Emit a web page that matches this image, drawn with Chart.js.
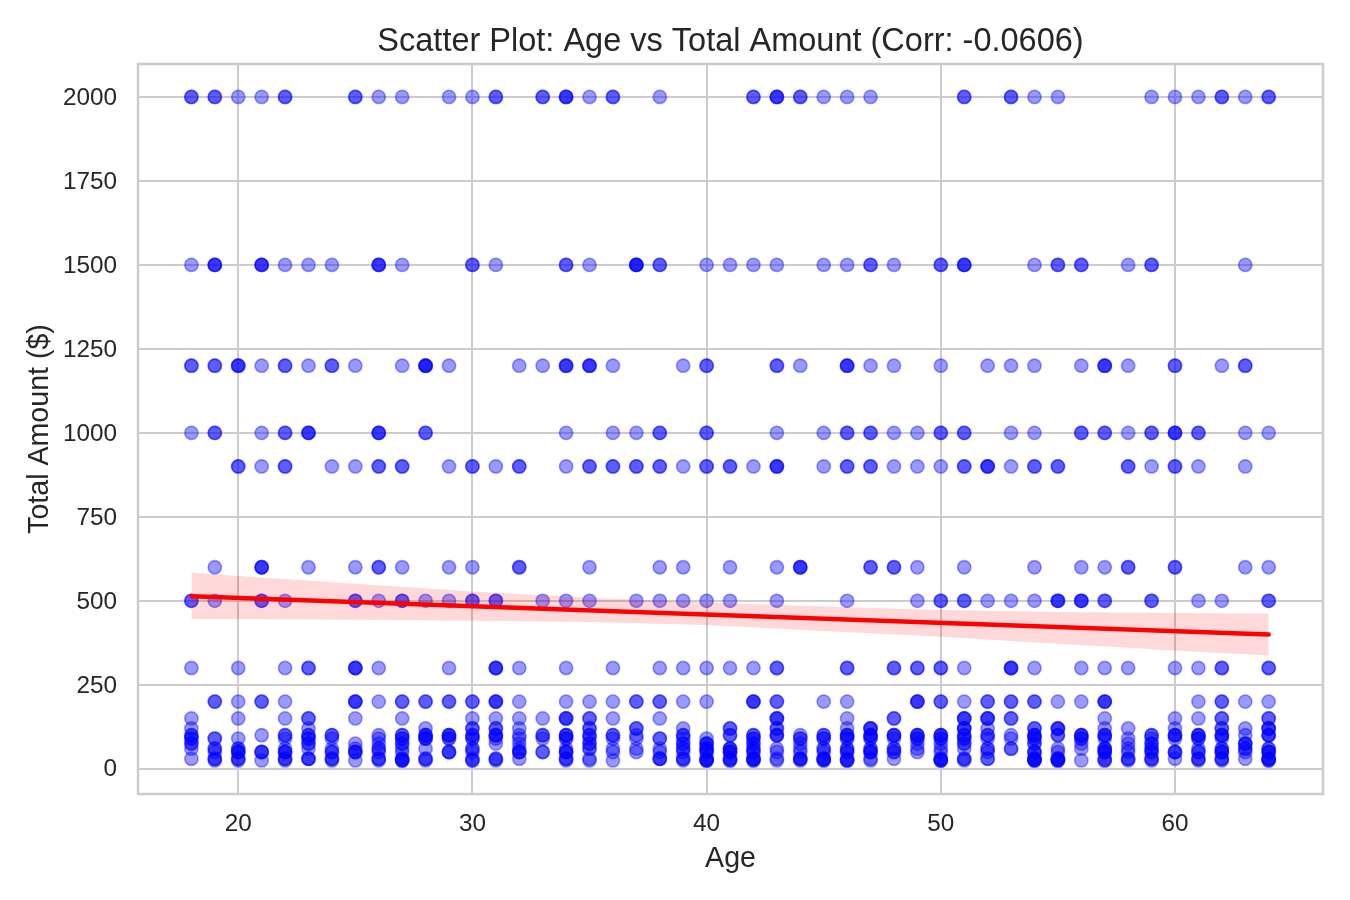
<!DOCTYPE html>
<html>
<head>
<meta charset="utf-8">
<script src="https://cdn.jsdelivr.net/npm/chart.js@4"></script>
<style>html,body{margin:0;padding:0;background:#fff}canvas{display:block}</style>
</head>
<body>
<canvas id="c" width="1350" height="900"></canvas>
<script>
// Ages of the customers at each Total Amount level (repeats = overlapping points)
const ages2000 = [18,18,19,19,20,21,22,22,25,25,26,27,29,30,31,31,33,33,34,34,34,35,36,36,38,42,42,43,43,43,44,44,45,46,47,51,51,53,53,54,55,59,60,61,62,62,63,64,64];
const ages1500 = [18,19,19,19,21,21,21,22,23,24,26,26,26,27,30,30,31,34,34,35,37,37,37,37,38,38,40,41,42,43,45,46,47,47,48,50,50,51,51,51,54,55,55,56,56,58,59,59,63];
const ages1200 = [18,18,19,19,20,20,20,21,22,22,23,24,24,25,27,28,28,28,28,29,32,33,34,34,34,35,35,35,36,39,40,40,43,43,44,46,46,46,47,48,50,52,53,54,56,57,57,57,58,60,60,62,63,63];
const ages1000 = [18,19,19,21,22,22,23,23,23,26,26,26,28,28,34,36,37,38,38,40,40,43,45,46,46,47,47,48,49,50,50,51,51,53,54,56,56,57,57,58,59,59,60,60,60,61,61,63,64];
const ages900 = [20,20,21,22,22,24,25,26,26,27,27,29,30,30,31,32,32,34,35,35,36,36,37,37,38,38,39,40,40,41,41,42,43,43,43,45,46,46,47,47,48,49,50,51,51,52,52,52,53,54,54,55,55,58,58,59,60,60,61,63];
const ages600 = [19,21,21,21,23,25,26,26,27,29,30,32,32,35,38,39,41,43,44,44,44,47,47,48,48,49,51,54,56,57,58,58,60,60,63,64];
const ages500 = [18,18,19,21,21,22,25,25,26,27,27,28,29,30,30,31,31,33,34,35,37,38,39,40,41,43,46,49,50,50,51,51,52,53,54,55,55,55,56,56,56,57,57,59,59,61,62,64,64];
const ages300 = [18,20,22,23,23,25,25,25,26,29,31,31,31,32,34,36,38,39,40,41,42,43,43,46,46,48,48,49,49,50,50,51,53,53,53,54,56,57,58,60,61,62,62,64,64];
const ages200 = [19,19,20,21,21,22,25,25,25,26,27,27,28,28,29,29,30,30,31,31,31,32,34,35,36,37,37,38,38,39,40,42,42,42,43,43,45,46,49,49,49,50,50,51,52,52,53,53,54,54,55,56,57,57,57,61,62,62,63,64];
const ages150 = [18,20,22,23,23,25,27,30,31,32,33,34,34,34,35,35,36,38,43,43,43,46,48,48,51,51,51,52,52,52,53,53,57,60,61,62,62,64,64];
const ages120 = [18,23,28,30,30,31,31,32,35,35,37,37,39,41,41,43,43,46,47,47,47,51,51,51,52,54,54,55,55,55,57,58,60,62,62,63,64,64,64];
const ages100 = [18,18,21,22,22,23,23,24,24,26,27,27,28,28,28,29,29,29,30,30,31,31,31,32,33,33,34,34,34,35,35,36,36,37,39,39,41,41,42,42,43,43,43,44,45,45,46,46,46,47,47,47,48,48,48,49,49,49,50,50,50,51,51,52,52,53,54,54,54,55,55,56,56,56,57,57,57,59,59,60,60,60,61,61,61,62,62,62,63,64,64,64];
const ages90 = [18,18,19,19,20,22,23,23,24,26,27,27,28,28,28,29,29,30,30,31,32,33,34,34,35,36,37,38,38,39,40,42,42,44,44,45,45,46,46,47,47,48,49,49,50,50,51,51,52,53,54,54,56,56,57,58,59,60,61,61,62];
const ages75 = [18,18,23,23,25,26,27,27,31,32,35,35,39,39,40,40,40,42,42,44,49,50,51,51,54,54,56,58,59,59,63,63,63];
const ages60 = [18,19,19,20,20,22,23,24,25,26,26,27,28,30,30,32,34,35,35,36,37,38,39,39,40,40,40,41,41,41,42,42,43,44,45,45,46,46,47,47,48,48,49,50,51,52,52,53,53,55,56,57,57,57,58,59,59,61,62,62,63,63,64,64];
const ages50 = [19,20,20,20,21,21,21,22,22,22,24,24,25,25,25,26,27,29,29,29,30,32,32,32,33,33,34,34,34,36,37,38,39,40,40,41,41,41,42,42,43,44,45,46,46,47,47,47,48,48,49,50,52,54,54,54,55,57,57,57,58,59,59,60,60,60,61,61,62,62,62,63,64,64,64];
const ages30 = [18,19,19,20,20,22,22,23,23,23,24,24,26,26,27,27,28,28,30,31,31,32,34,34,35,38,38,38,39,39,40,40,41,41,42,42,42,43,44,44,44,45,45,45,46,47,48,50,50,51,51,52,52,54,54,54,55,55,55,57,58,58,59,59,60,61,61,62,62,63,64,64,64];
const ages25 = [19,20,21,22,24,25,26,27,27,27,28,30,30,31,34,35,36,39,40,40,40,41,41,42,42,43,44,45,45,46,46,46,47,50,50,50,51,54,54,54,55,55,55,56,57,57,58,59,61,62,64,64];

const amountLevels = [2000,1500,1200,1000,900,600,500,300,200,150,120,100,90,75,60,50,30,25];
const agesByLevel = [ages2000,ages1500,ages1200,ages1000,ages900,ages600,ages500,ages300,ages200,ages150,ages120,ages100,ages90,ages75,ages60,ages50,ages30,ages25];

// Regression line and its confidence band
const trendAges = [18,64];
const trendValues = [514,400];
const bandAges = [18,20,25,30,35,40,45,50,55,60,64];
const bandUpper = [584,574,551,528,509,495,483,473,467,464,462];
const bandLower = [446,446,444,441,437,428,410,393,372,352,337];

const xTicks = [20,30,40,50,60];
const yTicks = [0,250,500,750,1000,1250,1500,1750,2000];

const points = amountLevels.flatMap((amt,i)=>agesByLevel[i].map(a=>({x:a,y:amt})));
const zip = (xs,ys)=>xs.map((x,i)=>({x,y:ys[i]}));

const INK = '#262626', GRID = '#cccccc', FONT = '"Liberation Sans", Arial, sans-serif';

const frame = {
  id:'frame',
  beforeDatasetsDraw(chart){
    const {ctx,chartArea:a} = chart;
    ctx.save();
    ctx.strokeStyle = GRID; ctx.lineWidth = 2.5;
    ctx.strokeRect(a.left,a.top,a.right-a.left,a.bottom-a.top);
    ctx.restore();
  }
};

new Chart(document.getElementById('c'),{
  type:'scatter',
  data:{datasets:[
    {label:'Trend',data:zip(trendAges,trendValues),showLine:true,pointRadius:0,borderColor:'#ff0000',borderWidth:4.5,borderCapStyle:'round',fill:false,order:0},
    {label:'Upper',data:zip(bandAges,bandUpper),showLine:true,pointRadius:0,borderWidth:0,borderColor:'rgba(0,0,0,0)',backgroundColor:'rgba(255,0,0,0.15)',fill:'+1',tension:0,order:1},
    {label:'Lower',data:zip(bandAges,bandLower),showLine:true,pointRadius:0,borderWidth:0,borderColor:'rgba(0,0,0,0)',fill:false,tension:0,order:2},
    {label:'Customers',data:points,showLine:false,pointRadius:6.6,pointHoverRadius:6.6,backgroundColor:'rgba(0,0,255,0.4)',borderColor:'rgba(0,0,255,0.4)',borderWidth:1.6,order:3}
  ]},
  options:{
    responsive:false,
    devicePixelRatio:1,
    animation:false,
    layout:{padding:{left:0,right:27,top:0,bottom:0}},
    plugins:{
      legend:{display:false},
      tooltip:{enabled:false},
      title:{display:true,fullSize:false,text:'Scatter Plot: Age vs Total Amount (Corr: -0.0606)',color:INK,
        font:{family:FONT,size:32.5,weight:'normal'},padding:{top:23,bottom:2}}
    },
    scales:{
      x:{type:'linear',min:15.72,max:66.32,
        afterFit(s){s.height=106},
        afterBuildTicks(s){s.ticks=xTicks.map(v=>({value:v}))},
        grid:{color:GRID,lineWidth:2,drawTicks:false},border:{display:false},
        ticks:{color:INK,font:{family:FONT,size:24.3},padding:16,maxRotation:0,callback:v=>String(v)},
        title:{display:true,text:'Age',color:INK,font:{family:FONT,size:28.6},padding:{top:0,bottom:24}}},
      y:{type:'linear',min:-75,max:2098,
        afterFit(s){s.width=138},
        afterBuildTicks(s){s.ticks=yTicks.map(v=>({value:v}))},
        grid:{color:GRID,lineWidth:2,drawTicks:false},border:{display:false},
        ticks:{color:INK,font:{family:FONT,size:24.3},padding:21,labelOffset:1,callback:v=>String(v)},
        title:{display:true,text:'Total Amount ($)',color:INK,font:{family:FONT,size:28.6},padding:{top:23,bottom:0}}}
    }
  },
  plugins:[frame]
});
</script>
</body>
</html>
